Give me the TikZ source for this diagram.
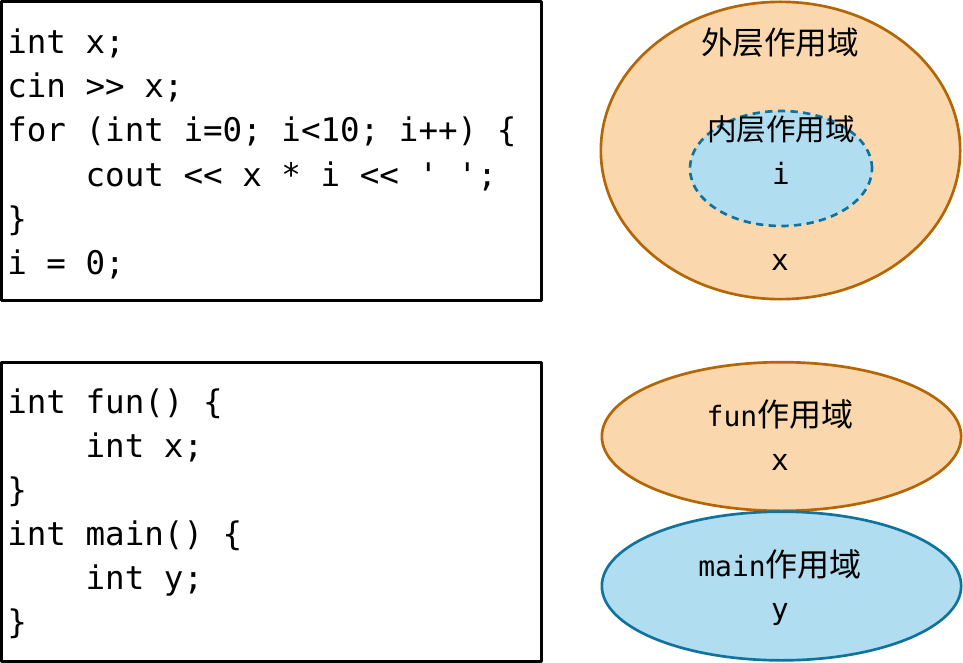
\documentclass[tikz,border=0pt]{standalone}
\usepackage{fontspec}
\setmonofont{DejaVu Sans Mono}
\newfontfamily\cjk{Noto Sans CJK SC}
\usepackage{tikz}
\usetikzlibrary{shapes.geometric}
\definecolor{outerfill}{HTML}{FAD7AC}
\definecolor{outerline}{HTML}{B46504}
\definecolor{innerfill}{HTML}{B1DDF0}
\definecolor{innerline}{HTML}{10739E}
\tikzset{
  codebox/.style={draw,line width=2.25pt,minimum width=405pt,minimum height=224.25pt,inner sep=0pt},
  codeline/.style={anchor=base west,inner sep=0pt,font=\fontsize{24.4}{33}\selectfont\ttfamily},
  orangescope/.style={ellipse,draw=outerline,fill=outerfill,line width=2pt,inner sep=0pt},
  bluescope/.style={ellipse,draw=innerline,fill=innerfill,line width=2pt,inner sep=0pt},
  scopename/.style={anchor=base,inner sep=0pt,font=\fontsize{23.7}{28}\cjk},
  varname/.style={anchor=base,inner sep=0pt,font=\fontsize{22}{26}\selectfont\ttfamily}
}
\newcommand{\tab}{\hphantom{0000}}

\begin{document}
\begin{tikzpicture}[line cap=round,line join=round,x=0.75pt,y=-0.75pt]
\useasboundingbox (0,0) rectangle (963,663);

% code boxes
\node[codebox] (top) at (271.5,151) {};
\node[codebox] (bottom) at (271.5,511.5) {};

\node[codeline] (t1) at (7,54) {int x;};
\node[codeline] (t2) at (7,98) {cin >> x;};
\node[codeline] (t3) at (7,142) {for (int i=0; i<10; i++) \{};
\node[codeline] (t4) at (7,186) {\tab cout << x * i << ' ';};
\node[codeline] (t5) at (7,230) {\}};
\node[codeline] (t6) at (7,274) {i = 0;};

\node[codeline] (b1) at (7,413) {int fun() \{};
\node[codeline] (b2) at (7,457) {\tab int x;};
\node[codeline] (b3) at (7,501) {\}};
\node[codeline] (b4) at (7,545) {int main() \{};
\node[codeline] (b5) at (7,589) {\tab int y;};
\node[codeline] (b6) at (7,633) {\}};

% nested scopes
\node[orangescope,minimum width=269.5pt,minimum height=223pt] (outer) at (780.5,150.5) {};
\node[bluescope,dashed,dash pattern=on 5.5pt off 4pt,line cap=butt,
      minimum width=136.5pt,minimum height=86.25pt] (inner) at (781,168.5) {};
\node[scopename] (outername) at (780,55) {外层作用域};
\node[scopename,font=\fontsize{22.2}{26}\cjk] (innername) at (781,141) {内层作用域};
\node[varname] (ivar) at (781,185) {i};
\node[varname] (xvar) at (780,270) {x};

% sibling scopes
\node[orangescope,minimum width=269.5pt,minimum height=111.5pt] (fun) at (781.5,436.5) {};
\node[bluescope,minimum width=269.5pt,minimum height=111.5pt] (main) at (781.5,586) {};
\node[scopename,font=\fontsize{24}{28}\cjk] (funname) at (780,426)
  {{\fontsize{21}{24}\selectfont\ttfamily fun}作用域};
\node[varname] (funx) at (780,470) {x};
\node[scopename,font=\fontsize{24}{28}\cjk] (mainname) at (780,576)
  {{\fontsize{21}{24}\selectfont\ttfamily main}作用域};
\node[varname] (mainy) at (780,619) {y};
\end{tikzpicture}
\end{document}
